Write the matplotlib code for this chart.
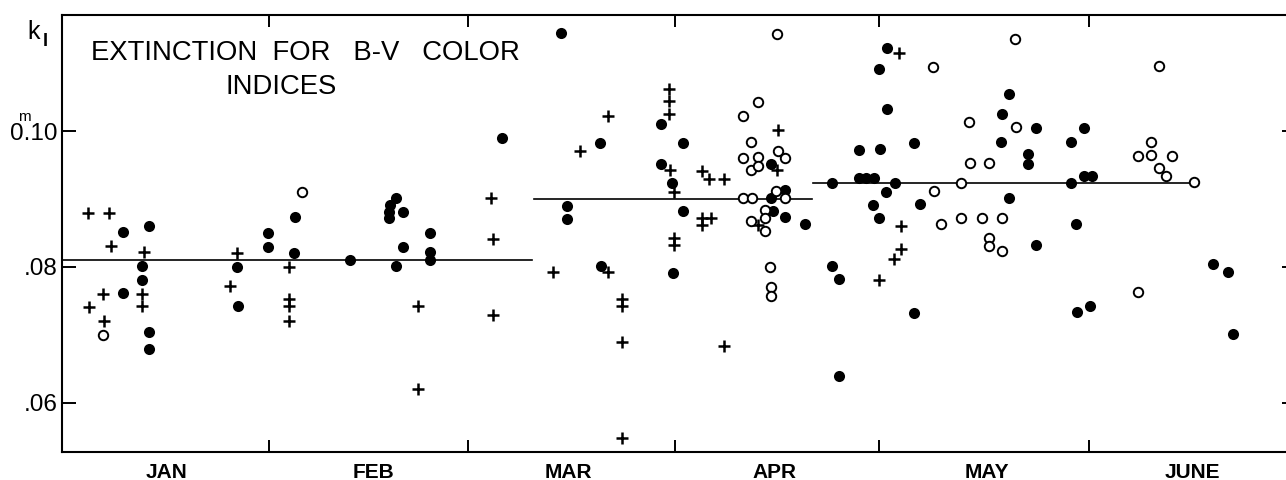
import matplotlib
matplotlib.use("Agg")
import matplotlib.pyplot as plt

plt.rcParams['font.family'] = ['Liberation Sans', 'DejaVu Sans']

# x = day of year (Jan 1 = 0), y = extinction k1 in magnitudes

# crosses
plus_day = [4.5, 7.6, 7.9, 6.8, 4.7, 6.9, 12.7, 12.5, 12.5, 25.3, 26.4, 33.9, 34.0, 34.0, 33.9,
            52.8, 52.8, 63.6, 63.8, 63.8,
            72.6, 76.5, 80.6, 80.6, 82.7, 82.7, 82.7, 82.7,
            89.6, 89.6, 89.6, 89.8, 90.4, 90.4, 90.4,
            94.5, 95.5, 97.7, 94.5, 94.5, 95.7, 97.7,
            105.6, 105.4, 102.6,
            123.3, 123.5, 123.5, 122.5, 120.4]
plus_k = [0.0880, 0.0880, 0.0831, 0.0760, 0.0741, 0.0721, 0.0822, 0.0760, 0.0743, 0.0772, 0.0820, 0.0800, 0.0753, 0.0743, 0.0721,
          0.0743, 0.0620, 0.0901, 0.0841, 0.0729,
          0.0792, 0.0971, 0.1022, 0.0792, 0.0753, 0.0742, 0.0690, 0.0548,
          0.1062, 0.1044, 0.1025, 0.0943, 0.0911, 0.0843, 0.0833,
          0.0941, 0.0930, 0.0930, 0.0872, 0.0862, 0.0872, 0.0683,
          0.1001, 0.0943, 0.0862,
          0.1115, 0.0861, 0.0826, 0.0811, 0.0781]

# filled circles
dot_day = [9.6, 13.5, 9.6, 12.5, 12.4, 13.4, 13.5, 26.4, 26.5, 30.9, 30.9, 34.8, 34.7,
           42.9, 48.7, 48.6, 48.6, 49.7, 50.7, 50.7, 49.7, 54.6, 54.6, 54.6, 65.1,
           73.8, 74.6, 74.6, 79.5, 79.6, 88.5, 91.6, 88.5, 90.1, 91.6, 90.2,
           104.6, 106.6, 104.6, 104.8, 106.6, 109.5,
           113.5, 113.5, 114.5, 114.5, 117.4, 117.4, 118.5, 119.6, 120.5, 120.4, 121.5, 121.5,
           122.7, 121.3, 119.5, 120.4, 125.4, 126.4, 125.4, 139.4, 138.3, 138.2, 139.4, 142.2,
           142.2, 143.4, 143.3, 148.5, 150.3, 148.5, 150.3, 151.6, 149.2, 149.3, 151.2,
           169.3, 171.4, 172.2]
dot_k = [0.0852, 0.0860, 0.0761, 0.0801, 0.0781, 0.0704, 0.0679, 0.0800, 0.0743, 0.0850, 0.0829, 0.0873, 0.0820,
         0.0810, 0.0891, 0.0881, 0.0872, 0.0901, 0.0881, 0.0830, 0.0801, 0.0850, 0.0822, 0.0810, 0.0990,
         0.1144, 0.0890, 0.0871, 0.0982, 0.0801, 0.1010, 0.0982, 0.0951, 0.0923, 0.0882, 0.0791,
         0.0951, 0.0914, 0.0902, 0.0882, 0.0873, 0.0863,
         0.0923, 0.0801, 0.0782, 0.0640, 0.0972, 0.0931, 0.0931, 0.0931, 0.0973, 0.1092, 0.1123, 0.1033,
         0.0923, 0.0911, 0.0891, 0.0872, 0.0982, 0.0892, 0.0732, 0.1054, 0.1025, 0.0984, 0.0901, 0.0966,
         0.0951, 0.1005, 0.0832, 0.0984, 0.1005, 0.0924, 0.0934, 0.0934, 0.0863, 0.0733, 0.0743,
         0.0804, 0.0793, 0.0701]

# open circles
open_day = [6.7, 35.8,
            105.4, 100.5, 102.6, 101.6, 100.5, 102.6, 105.6, 106.6, 101.6, 102.7, 105.2, 100.4,
            101.7, 106.6, 103.6, 103.6, 101.6, 103.7, 104.4, 104.6, 104.6,
            128.3, 128.4, 129.4, 132.4, 133.5, 133.6, 136.5, 132.4, 135.4, 138.4, 136.5, 136.5,
            138.3, 140.3, 140.4,
            161.3, 160.1, 158.2, 160.1, 163.2, 161.4, 162.3, 166.4, 158.3]
open_k = [0.0700, 0.0911,
          0.1143, 0.1022, 0.1043, 0.0984, 0.0961, 0.0962, 0.0971, 0.0960, 0.0943, 0.0948, 0.0912, 0.0902,
          0.0902, 0.0901, 0.0884, 0.0872, 0.0868, 0.0853, 0.0800, 0.0771, 0.0757,
          0.1094, 0.0912, 0.0863, 0.0924, 0.1014, 0.0953, 0.0953, 0.0872, 0.0872, 0.0872, 0.0843, 0.0831,
          0.0824, 0.1135, 0.1006,
          0.1096, 0.0984, 0.0964, 0.0965, 0.0964, 0.0946, 0.0934, 0.0925, 0.0763]

# mean level for each period
mean_start = [0.73, 69.8, 110.7]
mean_end = [69.5, 110.5, 166.4]
mean_k = [0.0810, 0.0900, 0.0924]

month_edges = [31.0, 60.2, 90.5, 120.4, 151.1]
month_mid = [16.1, 46.3, 74.8, 105.1, 136.2, 166.3]
month_names = ["JAN", "FEB", "MAR", "APR", "MAY", "JUNE"]
yticks = [0.06, 0.08, 0.10]
ylabels = [".06", ".08", "0.10"]

fig = plt.figure(figsize=(12.86, 4.8), dpi=100)
ax = fig.add_axes([62 / 1286, 1 - 451.7 / 480, 1234 / 1286, (451.7 - 15) / 480])

for x0, x1, k in zip(mean_start, mean_end, mean_k):
    ax.plot([x0, x1], [k, k], color='black', lw=1.2, zorder=1)

ax.plot(plus_day, plus_k, ls='none', marker='+', ms=8.5, mew=1.8, color='black', zorder=3)
ax.plot(dot_day, dot_k, ls='none', marker='o', ms=8, mew=0, color='black', zorder=3)
ax.plot(open_day, open_k, ls='none', marker='o', ms=6.8, mew=1.4,
        markerfacecolor='white', markeredgecolor='black', zorder=4)

ax.set_xlim(0.73, 181.4)
ax.set_ylim(0.0528, 0.1171)

ax.set_xticks(month_edges)
ax.set_xticklabels([])
ax.set_xticks(month_mid, minor=True)
ax.set_xticklabels(month_names, minor=True, fontsize=15, fontweight='bold')
ax.tick_params(axis='x', which='major', direction='in', top=True, bottom=True,
               length=8.6, width=1.4)
ax.tick_params(axis='x', which='minor', length=0, pad=8)

ax.set_yticks(yticks)
ax.set_yticklabels(ylabels, fontsize=17.5)
ax.tick_params(axis='y', direction='in', left=True, right=True, length=10, width=1.4, pad=3)

for s in ax.spines.values():
    s.set_linewidth(1.5)

fig.text(24 / 1286, 1 - 117 / 480, "m", fontsize=11, ha='center', va='center')
fig.text(34 / 1286, 1 - 32 / 480, "k", fontsize=18, ha='center', va='center')
fig.text(45 / 1286, 1 - 41 / 480, "I", fontsize=13, fontweight='bold', ha='center', va='center')

fig.text(91 / 1286, 1 - 52.5 / 480, "EXTINCTION  FOR   B-V   COLOR", fontsize=19.8,
         ha='left', va='center')
fig.text(281 / 1286, 1 - 87 / 480, "INDICES", fontsize=19.8, ha='center', va='center')

fig.savefig("out.png", dpi=100)
